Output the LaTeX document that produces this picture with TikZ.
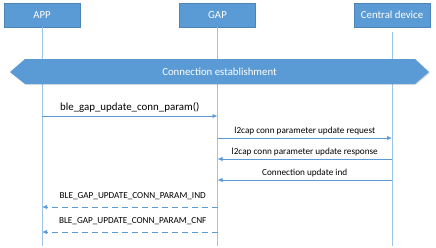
\documentclass[tikz,border=0pt]{standalone}
\usepackage{fontspec}
\setmainfont{Carlito}
\usepackage{tikz}
\usetikzlibrary{calc,arrows.meta}
\definecolor{boxblue}{HTML}{5B9BD5}
\definecolor{lifeblue}{HTML}{9DC3E6}
\tikzset{
	actor/.style={fill=boxblue, draw=boxblue!85!black, line width=0.3pt, text=white,
		minimum width=76pt, minimum height=24pt, inner sep=0pt, font=\fontsize{10.8}{12}\selectfont},
	life/.style={lifeblue, line width=1pt},
	msg/.style={boxblue, line width=0.9pt, -{Latex[length=5pt,width=4.5pt]}},
	reply/.style={msg, dash pattern=on 6pt off 4pt},
	lbl/.style={text=black, inner sep=0pt, font=\fontsize{9.2}{11}\selectfont},
}
\begin{document}
\begin{tikzpicture}[x=1pt,y=-1pt]
		% 0. 画布大小
		\useasboundingbox (0,0) rectangle (436,247);
		
		% 1. 三个参与者
		\node[actor] (app) at (42,15) {APP};
		\node[actor] (gap) at (217.5,15) {GAP};
		\node[actor] (cen) at (392,15) {Central device};
		
		% 2. 生命线
		\coordinate (appEnd) at (42,246);
		\coordinate (gapEnd) at (217.5,246);
		\coordinate (cenTop) at (392,32);
		\coordinate (cenEnd) at (392,246);
		\draw[life] (app.south) -- (appEnd);
		\draw[life] (gap.south) -- (gapEnd);
		\draw[life] (cenTop) -- (cenEnd);
		
		% 3. 连接建立 (六边形横条)
		\fill[black, opacity=0.12] (11,73) -- (26,60) -- (416,60) -- (430,73) -- (416,85) -- (26,85) -- cycle;
		\fill[boxblue] (10,72) -- (25,59) -- (415,59) -- (429,72) -- (415,84) -- (25,84) -- cycle;
		\node[text=white, font=\fontsize{10.8}{12}\selectfont] (est) at (219.5,72) {Connection establishment};
		
		% 4. 消息
		\def\ya{116} \def\yb{138} \def\yc{159} \def\yd{180} \def\ye{207} \def\yf{232}
		\draw[msg] (app |- 0,\ya) -- (gap |- 0,\ya)
		node[lbl, midway, yshift=9pt, font=\fontsize{10.9}{12}\selectfont] (m1) {ble\_gap\_update\_conn\_param()};
		\draw[msg] (gap |- 0,\yb) -- (cen |- 0,\yb)
		node[lbl, midway, yshift=6.5pt] (m2) {l2cap conn parameter update request};
		\draw[msg] (cen |- 0,\yc) -- (gap |- 0,\yc)
		node[lbl, midway, yshift=6.5pt] (m3) {l2cap conn parameter update response};
		\draw[msg] (cen |- 0,\yd) -- (gap |- 0,\yd)
		node[lbl, midway, yshift=6.5pt] (m4) {Connection update ind};
		
		% 5. 虚线回复
		\draw[reply] (gap |- 0,\ye) -- (app |- 0,\ye)
		node[lbl, midway, yshift=10.5pt, xshift=3pt] (m5) {BLE\_GAP\_UPDATE\_CONN\_PARAM\_IND};
		\draw[reply] (gap |- 0,\yf) -- (app |- 0,\yf)
		node[lbl, midway, yshift=10.5pt, xshift=3pt] (m6) {BLE\_GAP\_UPDATE\_CONN\_PARAM\_CNF};
		
	\end{tikzpicture}
\end{document}
